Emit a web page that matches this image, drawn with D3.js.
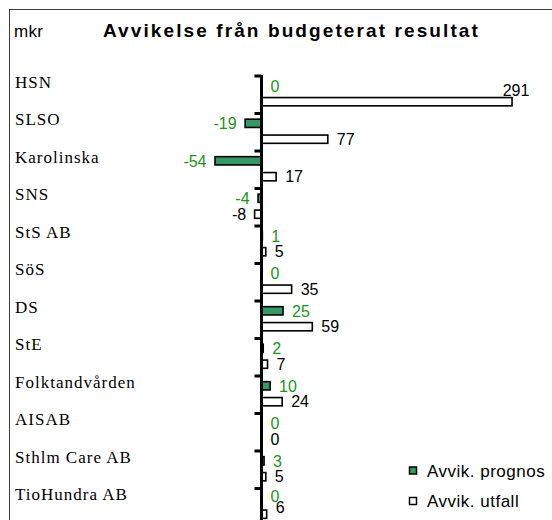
<!DOCTYPE html>
<html><head><meta charset="utf-8">
<script src="https://cdn.jsdelivr.net/npm/d3@7"></script>
<style>body{margin:0;background:#fff}svg{display:block}</style>
</head><body><svg id="c" width="552" height="520"></svg>
<script>
// ---- data ----
const categories = ["HSN","SLSO","Karolinska","SNS","StS AB","SöS","DS","StE","Folktandvården","AISAB","Sthlm Care AB","TioHundra AB"];
const prognos = [0,-19,-54,-4,1,0,25,2,10,0,3,0];
const utfall  = [291,77,17,-8,5,35,59,7,24,0,5,6];
const seriesKeys = ["prognos","utfall"];
const seriesNames = ["Avvik. prognos","Avvik. utfall"];
const titleText = "Avvikelse från budgeterat resultat";
const unitText = "mkr";

// ---- styles ----
const GREEN_FILL = "#339966";
const GREEN_TEXT = "#1b961b";
const sans = "'Liberation Sans', Arial, sans-serif";
const serif = "'Liberation Serif', 'Times New Roman', serif";

const svg = d3.select("#c");
svg.append("rect").attr("x",0).attr("y",0).attr("width",552).attr("height",520).attr("fill","#fff");
// frame
svg.append("rect").attr("x",9.5).attr("y",9.5).attr("width",560).attr("height",540)
  .attr("fill","none").attr("stroke","#404040").attr("stroke-width",1);

// title & unit
svg.append("text").attr("x",14).attr("y",36.5).text(unitText)
  .attr("font-family",sans).attr("font-size",17).attr("letter-spacing",0.3).attr("fill","#000");
svg.append("text").attr("x",103).attr("y",37).text(titleText)
  .attr("font-family",sans).attr("font-weight","bold").attr("font-size",19)
  .attr("letter-spacing",2.1).attr("fill","#000");

// scales
const x = d3.scaleLinear().domain([-60,300]).range([209.84,519.8]);
const y = d3.scaleBand().domain(categories).range([75,525]);
const sub = d3.scaleBand().domain(seriesKeys).range([0,y.step()]).paddingInner(0.48).paddingOuter(0.42);
const plotBottom = 513;

const values = {prognos, utfall};
const fills = {prognos: GREEN_FILL, utfall: "#fff"};
const textCol = {prognos: GREEN_TEXT, utfall: "#000"};

// category labels
svg.append("g").selectAll("text").data(categories).join("text")
  .attr("x",15).attr("y",d=>y(d)+12.8).text(d=>d)
  .attr("font-family",serif).attr("font-size",17).attr("letter-spacing",1.0).attr("fill","#000");

// bars
const rows = [];
categories.forEach((c,i)=>seriesKeys.forEach(k=>rows.push({c,k,v:values[k][i]})));
svg.append("g").selectAll("rect").data(rows.filter(r=>r.v!==0)).join("rect")
  .attr("x",d=>x(Math.min(0,d.v))).attr("width",d=>Math.abs(x(d.v)-x(0)))
  .attr("y",d=>y(d.c)+sub(d.k)).attr("height",sub.bandwidth())
  .attr("fill",d=>fills[d.k]).attr("stroke","#000").attr("stroke-width",1.6);

// axis line & ticks
const ax = svg.append("g");
ax.append("line").attr("x1",x(0)).attr("x2",x(0)).attr("y1",y.range()[0]).attr("y2",y.range()[1])
  .attr("stroke","#000").attr("stroke-width",3);
ax.selectAll("line.t").data(categories).join("line").attr("class","t")
  .attr("x1",x(0)-7).attr("x2",x(0)).attr("y1",d=>y(d)+1).attr("y2",d=>y(d)+1)
  .attr("stroke","#000").attr("stroke-width",3);

// value labels
const lab = svg.append("g").attr("font-family",sans).attr("font-size",16);
categories.forEach((c,i)=>{
  // vertical centres, kept inside the plot area
  const cyU = Math.min(y(c)+sub("utfall")+sub.bandwidth()/2, plotBottom-6);
  const cyP = Math.min(y(c)+sub("prognos")+sub.bandwidth()/2, cyU-10.7);
  const cys = {prognos: cyP, utfall: cyU};
  seriesKeys.forEach(k=>{
    const v = values[k][i];
    const top = y(c)+sub(k);
    const t = lab.append("text").text(v).attr("fill",textCol[k]);
    if (v < 0) {
      t.attr("x",x(v)-8.5).attr("y",cys[k]).attr("dy","0.36em").attr("text-anchor","end");
    } else if (x(v)+30 > x.range()[1]) {
      t.attr("x",x(v)+4).attr("y",top-1.5).attr("text-anchor","middle");
    } else {
      t.attr("x",x(v)+9).attr("y",cys[k]).attr("dy","0.36em").attr("text-anchor","start");
    }
  });
});

// legend
const lg = svg.append("g").attr("transform","translate(409,466.5)");
seriesKeys.forEach((k,i)=>{
  const g = lg.append("g").attr("transform",`translate(0,${i*30.5})`);
  g.append("rect").attr("x",0.5).attr("y",0.5).attr("width",7).attr("height",7)
    .attr("fill",fills[k]).attr("stroke","#000").attr("stroke-width",1.5);
  g.append("text").attr("x",18).attr("y",10.3).text(seriesNames[i])
    .attr("font-family",sans).attr("font-size",17).attr("letter-spacing",0.5).attr("fill","#000");
});
</script></body></html>
